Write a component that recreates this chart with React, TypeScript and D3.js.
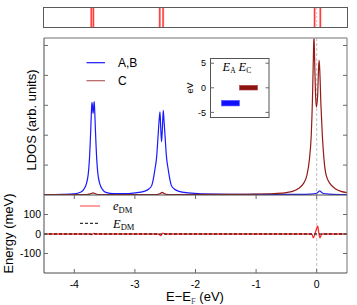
import React from "react";
import * as d3 from "d3";

// ---------- data ----------
const xTicks = [-4, -3, -2, -1, 0];
const ldosTicks = [1, 2, 3, 4, 5];
const energyTicks = [-100, 0, 100];
const insetTicks = [-5, 0, 5];

// LDOS of sites A,B (blue)
const ldosAB_E = [-4.5, -4.2, -4.0, -3.9, -3.85, -3.8, -3.77, -3.75, -3.73, -3.715, -3.708, -3.7, -3.69, -3.68, -3.672, -3.665, -3.65, -3.63, -3.61, -3.58, -3.53, -3.48, -3.35, -3.1, -3.0, -2.85, -2.77, -2.72, -2.67, -2.64, -2.62, -2.6, -2.586, -2.575, -2.56, -2.545, -2.532, -2.52, -2.5, -2.48, -2.45, -2.4, -2.35, -2.27, -2.12, -1.9, -1.0, -0.3, -0.1, 0.0, 0.03, 0.05, 0.07, 0.1, 0.2, 0.5];
const ldosAB_V = [0.01, 0.02, 0.04, 0.09, 0.17, 0.38, 0.7, 1.2, 2.1, 2.9, 3.1, 2.95, 2.73, 2.95, 3.12, 2.9, 2.1, 1.2, 0.7, 0.38, 0.17, 0.09, 0.05, 0.05, 0.07, 0.12, 0.2, 0.33, 0.85, 1.3, 1.9, 2.5, 2.78, 2.3, 1.78, 2.3, 2.83, 2.5, 1.9, 1.3, 0.85, 0.33, 0.2, 0.12, 0.07, 0.04, 0.02, 0.02, 0.03, 0.06, 0.11, 0.14, 0.11, 0.06, 0.03, 0.01];

// LDOS of site C (brown)
const ldosC_E = [-4.5, -3.8, -3.72, -3.69, -3.66, -3.6, -2.65, -2.58, -2.55, -2.52, -2.45, -1.5, -1.0, -0.7, -0.5, -0.4, -0.3, -0.22, -0.16, -0.12, -0.09, -0.07, -0.055, -0.045, -0.035, -0.02, -0.006, 0.015, 0.03, 0.04, 0.05, 0.07, 0.093, 0.12, 0.155, 0.22, 0.3, 0.4, 0.5];
const ldosC_V = [0.01, 0.01, 0.05, 0.07, 0.05, 0.01, 0.01, 0.05, 0.09, 0.05, 0.01, 0.02, 0.03, 0.05, 0.08, 0.12, 0.22, 0.38, 0.67, 1.2, 2.0, 3.2, 4.6, 5.35, 4.6, 3.4, 2.94, 3.3, 4.2, 4.5, 4.2, 3.0, 2.0, 1.2, 0.67, 0.38, 0.22, 0.12, 0.08];

// e_DM (red) in meV
const eDM_E = [-4.5, -3.75, -3.71, -3.68, -3.64, -2.62, -2.57, -2.54, -2.5, -0.1, -0.075, -0.056, -0.03, 0.0, 0.017, 0.035, 0.055, 0.07, 0.09, 0.5];
const eDM_V = [0, 0, -3, 3, 0, 0, -8, 5, 0, 0, -3, -20, -2, 30, 40, 5, -20, -8, 0, 0];

// E_DM (black dashed) in meV
const EDM_E = [-4.5, 0.5];
const EDM_V = [0, 0];

// peak energies shown in top strip
const stripLines = [-3.72, -3.685, -2.59, -2.535, -0.035, 0.06];

// inset bars: energy ranges (eV)
const insetCats = ["A", "C"];
const insetLow = [-3.69, -0.45];
const insetHigh = [-2.56, 0.5];
const insetColors = ["#1010ff", "#8b1410"];

// ---------- layout ----------
const W = 357, H = 305;
const X0 = 44, X1 = 347;
const LD_TOP = 38, LD_BOT = 195, EN_BOT = 273;

const BLUE = "#1a1aff";
const BROWN = "#951a16";
const RED = "#ff2a2a";
const SANS = "'Liberation Sans', Arial, Helvetica, sans-serif";
const SERIF = "'Liberation Serif', 'DejaVu Serif', serif";

export default function App() {
  const x = d3.scaleLinear().domain([-4.5, 0.5]).range([X0, X1]);
  const yL = d3.scaleLinear().domain([0, 5.25]).range([LD_BOT, LD_TOP]);
  const yE = d3.scaleLinear().domain([-200, 200]).range([EN_BOT, LD_BOT]);
  const yI = d3.scaleLinear().domain([-6, 6]).range([117.3, 58.3]);
  const xI = d3.scaleBand().domain(insetCats).range([221.5, 257.5]);

  const mk = (xs: number[], ys: number[], ys_: d3.ScaleLinear<number, number>) =>
    d3.line<number>().x((_, i) => x(xs[i])).y((_, i) => ys_(ys[i])).curve(d3.curveMonotoneX)(xs.map((_, i) => i)) || "";

  const pathAB = mk(ldosAB_E, ldosAB_V, yL);
  const pathC = mk(ldosC_E, ldosC_V, yL);
  const pathe = mk(eDM_E, eDM_V, yE);
  const pathE = mk(EDM_E, EDM_V, yE);

  const frame = "#6a6a6a";

  return (
    <svg width={W} height={H} style={{ position: "absolute", left: 0, top: 0, background: "#fff" }}>
      <defs>
        <clipPath id="clipL">
          <rect x={X0} y={LD_TOP} width={X1 - X0} height={LD_BOT - LD_TOP} />
        </clipPath>
        <clipPath id="clipE">
          <rect x={X0} y={LD_BOT} width={X1 - X0} height={EN_BOT - LD_BOT} />
        </clipPath>
      </defs>
      <rect x={0} y={0} width={W} height={H} fill="#fff" />

      {/* top strip */}
      <rect x={43.5} y={7.5} width={304} height={20} fill="none" stroke="#5a5a5a" strokeWidth={1} />
      {stripLines.map((e, i) => (
        <g key={i}>
          <line x1={x(e)} x2={x(e)} y1={8} y2={27} stroke="#ff9a9a" strokeWidth={2.2} />
          <line x1={x(e)} x2={x(e)} y1={8} y2={27} stroke="#ff2020" strokeWidth={0.9} />
        </g>
      ))}
      <line x1={x(0)} x2={x(0)} y1={8} y2={27} stroke="#bbb" strokeWidth={0.8} strokeDasharray="2,2" />

      {/* zero dashed line */}
      <line x1={x(0)} x2={x(0)} y1={LD_TOP} y2={EN_BOT} stroke="#b0b0b0" strokeWidth={0.8} strokeDasharray="3,2" />

      {/* LDOS curves */}
      <g clipPath="url(#clipL)">
        <path d={pathAB} fill="none" stroke={BLUE} strokeWidth={1.2} />
        <path d={pathC} fill="none" stroke={BROWN} strokeWidth={1.2} />
      </g>

      {/* energy curves */}
      <g clipPath="url(#clipE)">
        <path d={pathe} fill="none" stroke={RED} strokeWidth={1.3} />
        <path d={pathE} fill="none" stroke="#000" strokeWidth={1} strokeDasharray="3,2" />
      </g>

      {/* frames */}
      <line x1={X0} x2={X1} y1={LD_TOP} y2={LD_TOP} stroke="#a0a0a0" strokeWidth={1.6} />
      <line x1={X0} x2={X0} y1={LD_TOP} y2={EN_BOT} stroke="#4a4a4a" strokeWidth={1} />
      <line x1={X1} x2={X1} y1={LD_TOP} y2={EN_BOT} stroke="#8a8a8a" strokeWidth={1.2} />
      <line x1={X0} x2={X1} y1={LD_BOT} y2={LD_BOT} stroke="#4a4a4a" strokeWidth={1} />
      <line x1={X0} x2={X1} y1={EN_BOT} y2={EN_BOT} stroke="#4a4a4a" strokeWidth={1} />

      {/* LDOS ticks */}
      {ldosTicks.map((t) => (
        <g key={t}>
          <line x1={X0} x2={X0 + 4} y1={yL(t)} y2={yL(t)} stroke={frame} />
          <line x1={X1 - 4} x2={X1} y1={yL(t)} y2={yL(t)} stroke={frame} />
        </g>
      ))}
      {/* energy ticks */}
      {energyTicks.map((t) => (
        <g key={t}>
          <line x1={X0} x2={X0 + 4} y1={yE(t)} y2={yE(t)} stroke={frame} />
          <line x1={X1 - 4} x2={X1} y1={yE(t)} y2={yE(t)} stroke={frame} />
          <text x={41} y={yE(t) + 3.7} textAnchor="end" fontFamily={SANS} fontSize={10.5} fill="#000">
            {t}
          </text>
        </g>
      ))}
      {/* x ticks */}
      {xTicks.map((t) => (
        <g key={t}>
          <line x1={x(t)} x2={x(t)} y1={EN_BOT} y2={EN_BOT - 4} stroke={frame} />
          <line x1={x(t)} x2={x(t)} y1={LD_BOT} y2={LD_BOT + 4} stroke={frame} />
          <text x={x(t)} y={288} textAnchor="middle" fontFamily={SANS} fontSize={10.5} fill="#000">
            {t}
          </text>
        </g>
      ))}

      {/* axis titles */}
      <text transform={`translate(35.5,120) rotate(-90)`} textAnchor="middle" fontFamily={SANS} fontSize={13} fill="#000">
        LDOS (arb. units)
      </text>
      <text transform={`translate(12.5,233.5) rotate(-90)`} textAnchor="middle" fontFamily={SANS} fontSize={13} fill="#000">
        Energy (meV)
      </text>
      <text x={195} y={300.5} textAnchor="middle" fontFamily={SANS} fontSize={13} fill="#000">
        E−E<tspan fontSize={8.5} dy={3} fontFamily={SERIF} fill="#555">F</tspan>
        <tspan dy={-3}> (eV)</tspan>
      </text>

      {/* LDOS legend */}
      <line x1={86.5} x2={105} y1={62.7} y2={62.7} stroke={BLUE} strokeWidth={1.2} />
      <text x={118} y={67} fontFamily={SANS} fontSize={12} fill="#000">A,B</text>
      <line x1={86.5} x2={105} y1={80.7} y2={80.7} stroke="#b06060" strokeWidth={1.2} />
      <text x={118} y={85} fontFamily={SANS} fontSize={12} fill="#000">C</text>

      {/* energy legend */}
      <line x1={80} x2={100} y1={206} y2={206} stroke="#ff6a6a" strokeWidth={1.3} />
      <text x={113} y={210} fontFamily={SERIF} fontSize={12.5} fontStyle="italic" fill="#000">
        e<tspan fontStyle="normal" fontSize={8.5} dy={2.5}>DM</tspan>
      </text>
      <line x1={80} x2={100} y1={223.3} y2={223.3} stroke="#000" strokeWidth={1} strokeDasharray="3,2" />
      <text x={113} y={227.5} fontFamily={SERIF} fontSize={12.5} fontStyle="italic" fill="#000">
        E<tspan fontStyle="normal" fontSize={8.5} dy={2.5}>DM</tspan>
      </text>

      {/* inset */}
      <rect x={210.5} y={58.5} width={58.5} height={59} fill="#fff" stroke="#555" strokeWidth={1} />
      {insetTicks.map((t) => (
        <g key={t}>
          <line x1={210.5} x2={214} y1={yI(t)} y2={yI(t)} stroke={frame} />
          <line x1={265.5} x2={269} y1={yI(t)} y2={yI(t)} stroke={frame} />
          <text x={206} y={yI(t) + 3.2} textAnchor="end" fontFamily={SANS} fontSize={9} fill="#000">
            {t}
          </text>
        </g>
      ))}
      <text transform={`translate(193,88) rotate(-90)`} textAnchor="middle" fontFamily={SANS} fontSize={9} fill="#000">
        eV
      </text>
      {insetCats.map((c, i) => (
        <rect
          key={c}
          x={xI(c)!}
          y={yI(insetHigh[i])}
          width={xI.bandwidth()}
          height={yI(insetLow[i]) - yI(insetHigh[i])}
          fill={insetColors[i]}
          stroke={i === 0 ? "#5a5aff" : "#b04040"}
          strokeWidth={0.6}
        />
      ))}
      <text x={222.5} y={70.5} fontFamily={SERIF} fontSize={12.5} fontStyle="italic" fill="#000">
        E<tspan fontStyle="normal" fontSize={7.5} dy={2.5}>A</tspan>
        <tspan dy={-2.5} dx={3}>E</tspan>
        <tspan fontStyle="normal" fontSize={7.5} dy={2.5}>C</tspan>
      </text>
    </svg>
  );
}
